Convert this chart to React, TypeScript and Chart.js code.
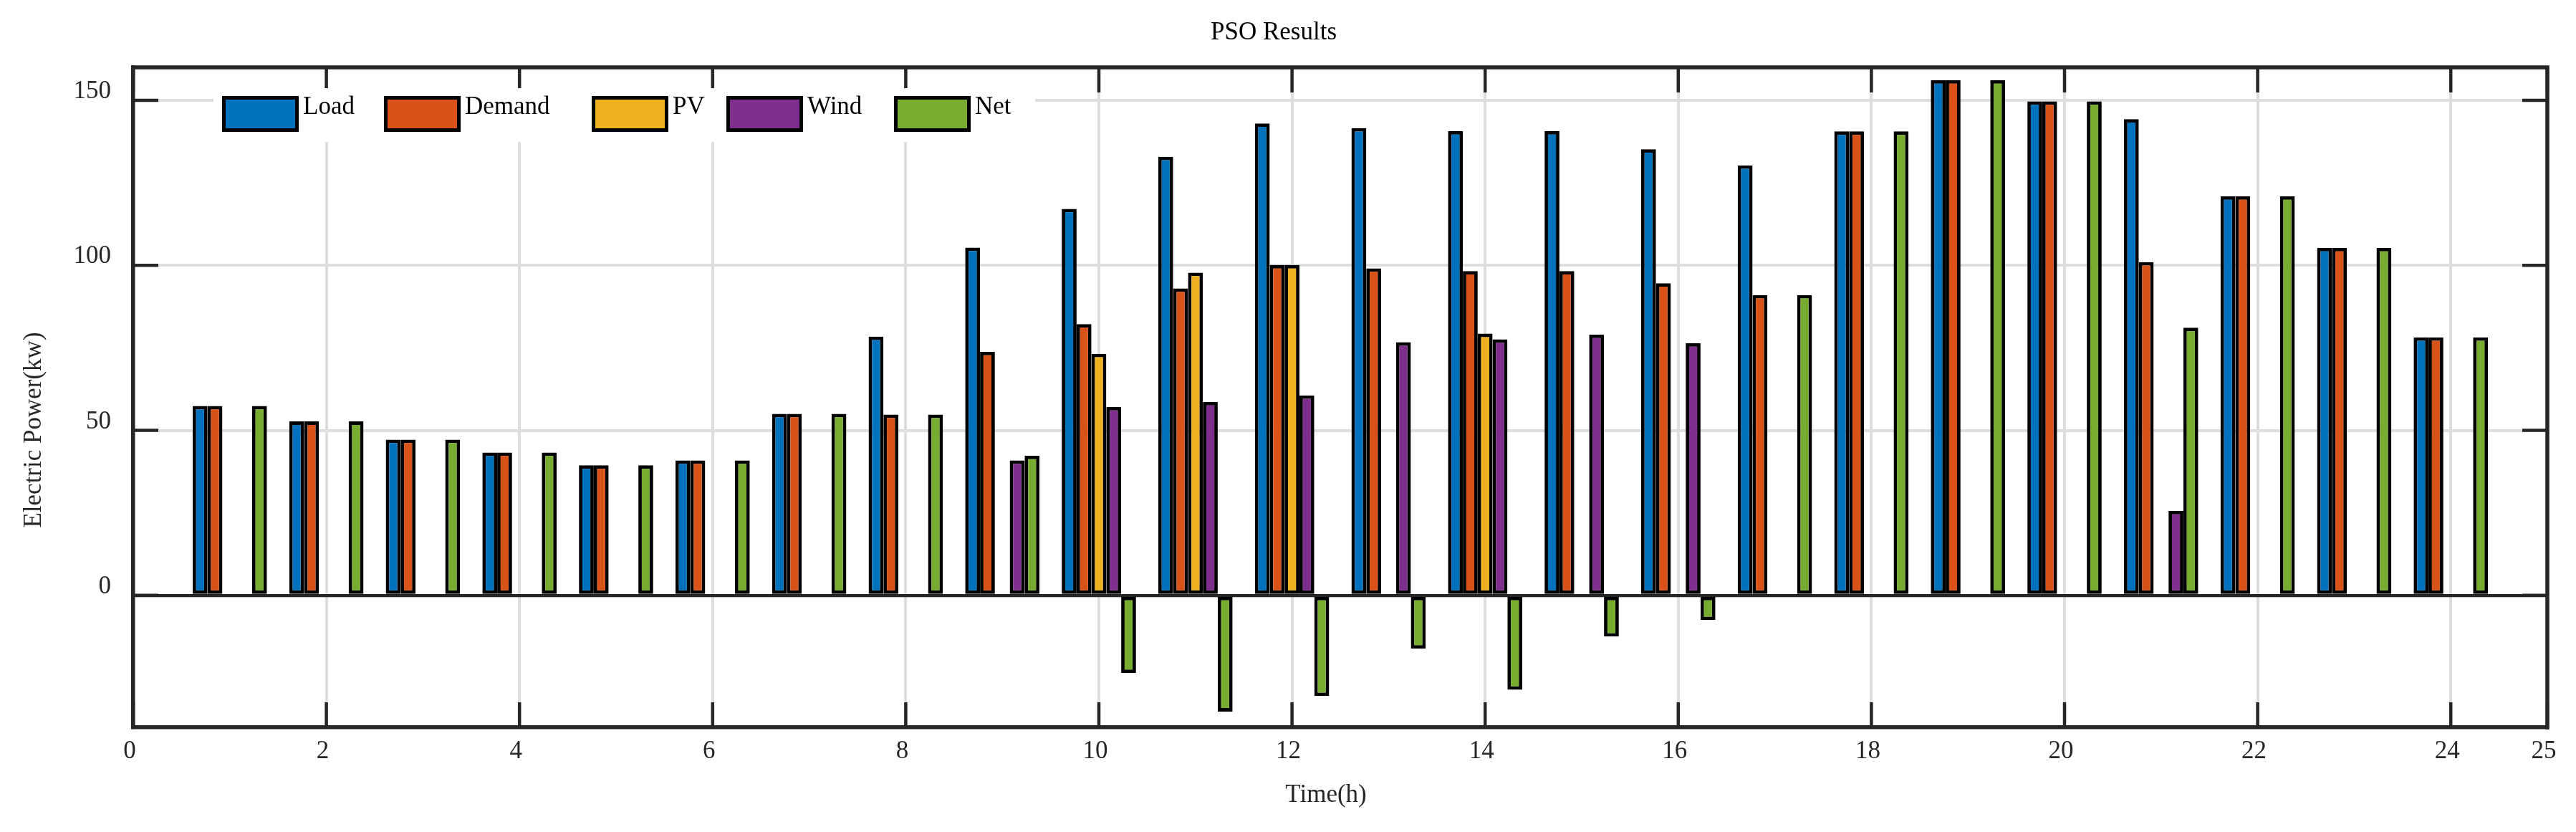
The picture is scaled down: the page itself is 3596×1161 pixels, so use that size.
import React, { useEffect, useRef } from 'react';
import { Chart, registerables } from 'chart.js';

Chart.register(...registerables);

// ---------------- data ----------------
const HOURS = [1, 2, 3, 4, 5, 6, 7, 8, 9, 10, 11, 12, 13, 14, 15, 16, 17, 18, 19, 20, 21, 22, 23, 24];

const LOAD = [57.4, 52.7, 47.2, 43.3, 39.4, 40.9, 55.0, 78.4, 105.4, 117.1, 132.9, 143.0, 141.6, 140.7, 140.7, 135.2, 130.3, 140.6, 156.1, 149.7, 144.3, 120.9, 105.3, 78.2];
const DEMAND = [57.4, 52.7, 47.2, 43.3, 39.4, 40.9, 55.0, 54.8, 73.8, 82.2, 93.0, 100.1, 99.1, 98.3, 98.3, 94.6, 91.0, 140.6, 156.1, 149.7, 101.0, 120.9, 105.3, 78.2];
const PV = [0, 0, 0, 0, 0, 0, 0, 0, 0, 73.2, 97.8, 100.1, 0, 79.3, 0, 0, 0, 0, 0, 0, 0, 0, 0, 0];
const WIND = [0, 0, 0, 0, 0, 0, 0, 0, 40.9, 57.1, 58.6, 60.6, 76.7, 77.6, 79.0, 76.4, 0, 0, 0, 0, 25.6, 0, 0, 0];
const NET = [57.4, 52.7, 47.2, 43.3, 39.4, 40.9, 55.0, 54.8, 42.3, -23.5, -35.2, -30.5, -16.1, -28.6, -12.5, -7.5, 91.0, 140.6, 156.1, 149.7, 81.1, 120.9, 105.3, 78.2];

const SERIES_NAMES = ['Load', 'Demand', 'PV', 'Wind', 'Net'];
const SERIES_VALUES = [LOAD, DEMAND, PV, WIND, NET];
const SERIES_COLORS = ['#0072BD', '#D95319', '#EDB120', '#7E2F8E', '#77AC30'];

const X_TICKS = [0, 2, 4, 6, 8, 10, 12, 14, 16, 18, 20, 22, 24, 25];
const Y_TICKS = [0, 50, 100, 150];

const TITLE = 'PSO Results';
const X_TITLE = 'Time(h)';
const Y_TITLE = 'Electric Power(kw)';

// ---------------- styling / layout ----------------
const FONT = "'Liberation Serif', 'Times New Roman', Times, serif";
const FONT_SIZE = 35;
const AXIS_COLOR = '#262626';
const GRID_COLOR = '#dedede';
const TICK_LEN = 35;

const LEGEND_LAYOUT = {
  boxLeft: 298,
  boxTop: 123,
  boxRight: 1445,
  boxBottom: 198,
  swatchX: [310, 536, 826, 1014, 1248],
  swatchTop: 134,
  swatchW: 107,
  swatchH: 50,
  textGap: 6,
  textBaseline: 159,
};

const AXIS_TITLE_POS = {
  x: { cx: 1851, cy: 1110 },
  y: { cx: 48, cy: 600 },
};

const matlabPlugin = {
  id: 'matlabFrame',
  afterDraw(chart: any) {
    const { ctx, chartArea, scales } = chart;
    const { left, right, top, bottom } = chartArea;
    ctx.save();
    ctx.lineCap = 'butt';

    // top & right box edges
    ctx.strokeStyle = AXIS_COLOR;
    ctx.lineWidth = 5.5;
    ctx.beginPath();
    ctx.moveTo(left - 2.75, top);
    ctx.lineTo(right, top);
    ctx.lineTo(right, bottom + 2.75);
    ctx.stroke();

    // inward tick marks on all four sides
    ctx.lineWidth = 4.5;
    ctx.beginPath();
    X_TICKS.forEach((v) => {
      const px = scales.x.getPixelForValue(v);
      ctx.moveTo(px, bottom);
      ctx.lineTo(px, bottom - TICK_LEN);
      ctx.moveTo(px, top);
      ctx.lineTo(px, top + TICK_LEN);
    });
    Y_TICKS.forEach((v) => {
      const py = scales.y.getPixelForValue(v);
      ctx.moveTo(left, py);
      ctx.lineTo(left + TICK_LEN, py);
      ctx.moveTo(right, py);
      ctx.lineTo(right - TICK_LEN, py);
    });
    ctx.stroke();

    // legend
    const L = LEGEND_LAYOUT;
    ctx.fillStyle = '#ffffff';
    ctx.fillRect(L.boxLeft, L.boxTop, L.boxRight - L.boxLeft, L.boxBottom - L.boxTop);
    ctx.font = `${FONT_SIZE}px ${FONT}`;
    ctx.textAlign = 'left';
    ctx.textBaseline = 'alphabetic';
    chart.data.datasets.forEach((ds: any, i: number) => {
      const x = L.swatchX[i];
      ctx.fillStyle = ds.backgroundColor;
      ctx.fillRect(x, L.swatchTop, L.swatchW, L.swatchH);
      ctx.strokeStyle = '#000000';
      ctx.lineWidth = 5;
      ctx.strokeRect(x + 2.5, L.swatchTop + 2.5, L.swatchW - 5, L.swatchH - 5);
      ctx.fillStyle = '#000000';
      ctx.fillText(ds.label, x + L.swatchW + L.textGap, L.textBaseline);
    });

    // axis titles
    ctx.fillStyle = AXIS_COLOR;
    ctx.textAlign = 'center';
    ctx.textBaseline = 'middle';
    ctx.fillText(X_TITLE, AXIS_TITLE_POS.x.cx, AXIS_TITLE_POS.x.cy);

    ctx.save();
    ctx.translate(AXIS_TITLE_POS.y.cx, AXIS_TITLE_POS.y.cy);
    ctx.rotate(-Math.PI / 2);
    ctx.fillText(Y_TITLE, 0, 0);
    ctx.restore();

    ctx.restore();
  },
};

export default function App() {
  const canvasRef = useRef<HTMLCanvasElement | null>(null);

  useEffect(() => {
    document.body.style.margin = '0';
    document.body.style.overflow = 'hidden';
    const canvas = canvasRef.current;
    if (!canvas) return;

    const datasets = SERIES_NAMES.map((name, i) => ({
      label: name,
      data: HOURS.map((h, j) => ({ x: h, y: SERIES_VALUES[i][j] })),
      backgroundColor: SERIES_COLORS[i],
      borderColor: '#000000',
      borderWidth: 4.8,
      borderSkipped: false,
      categoryPercentage: 5 / 6.5,
      barPercentage: 1.0,
    }));

    const tickFont = { family: FONT, size: FONT_SIZE, weight: 'normal' as const };

    const chart = new Chart(canvas, {
      type: 'bar',
      data: { datasets },
      plugins: [matlabPlugin],
      options: {
        animation: false,
        responsive: false,
        maintainAspectRatio: false,
        layout: { padding: { left: 0, right: 40, top: 0, bottom: 0 } },
        plugins: {
          legend: { display: false },
          tooltip: { enabled: false },
          title: {
            display: true,
            text: TITLE,
            color: '#000000',
            font: { family: FONT, size: FONT_SIZE, weight: 'normal' },
            padding: { top: 25, bottom: 27 },
          },
        },
        scales: {
          x: {
            type: 'linear',
            min: 0,
            max: 25,
            offset: false,
            afterBuildTicks: (scale: any) => {
              scale.ticks = X_TICKS.map((v) => ({ value: v }));
            },
            afterFit: (scale: any) => {
              scale.height = 146;
            },
            grid: {
              offset: false,
              drawTicks: false,
              color: GRID_COLOR,
              lineWidth: 4,
            },
            border: { display: true, color: AXIS_COLOR, width: 5.5 },
            ticks: {
              color: AXIS_COLOR,
              font: tickFont,
              padding: 13,
              labelOffset: -5,
              maxRotation: 0,
              autoSkip: false,
            },
          },
          y: {
            type: 'linear',
            min: -40,
            max: 160,
            afterBuildTicks: (scale: any) => {
              scale.ticks = Y_TICKS.map((v) => ({ value: v }));
            },
            afterFit: (scale: any) => {
              scale.width = 186;
            },
            grid: {
              drawTicks: false,
              color: (c: any) => (c.tick && c.tick.value === 0 ? AXIS_COLOR : GRID_COLOR),
              lineWidth: (c: any) => (c.tick && c.tick.value === 0 ? 4.3 : 4),
            },
            border: { display: true, color: AXIS_COLOR, width: 5.5 },
            ticks: {
              color: AXIS_COLOR,
              font: tickFont,
              padding: 31,
              labelOffset: -12,
              autoSkip: false,
            },
          },
        },
      },
    } as any);

    return () => {
      chart.destroy();
    };
  }, []);

  return (
    <div style={{ width: 3596, height: 1161, background: '#ffffff' }}>
      <canvas ref={canvasRef} width={3596} height={1161} style={{ display: 'block' }} />
    </div>
  );
}
